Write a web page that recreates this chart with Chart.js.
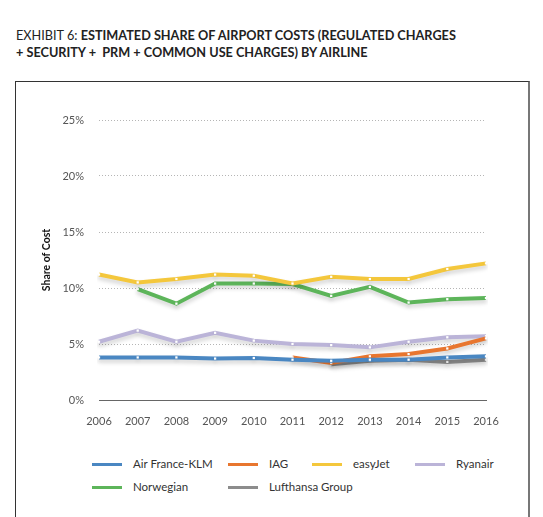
<!DOCTYPE html>
<html>
<head>
<meta charset="utf-8">
<script src="https://cdn.jsdelivr.net/npm/chart.js@4/dist/chart.umd.min.js"></script>
<style>
  body { margin: 0; background: #fff; font-family: Lato, "Open Sans", sans-serif; }
  #title { position: absolute; left: 16px; top: 27px; font-size: 12.7px; line-height: 17px; color: #222; font-weight: bold; }
  #title span { font-weight: normal; }
  #box { position: absolute; left: 15px; top: 81px; width: 512px; height: 450px;
         border: 1.5px solid #333; border-right: 2.5px solid #777; }
  #wrap { position: absolute; left: 17px; top: 83px; width: 510px; height: 360px; }
  #legend { position: absolute; left: 0; top: 456px; width: 543px; font-size: 11.5px; color: #333; }
  .item { position: absolute; height: 16px; line-height: 16px; white-space: nowrap; }
  .item i { display: inline-block; width: 30px; height: 3px; vertical-align: middle; margin-right: 11px; position: relative; top: -1px; }
</style>
</head>
<body>
<div id="title"><span>EXHIBIT 6: </span>ESTIMATED SHARE OF AIRPORT COSTS (REGULATED CHARGES<br>+ SECURITY + &nbsp;PRM + COMMON USE CHARGES) BY AIRLINE</div>
<div id="box"></div>
<div id="wrap"><canvas id="chart"></canvas></div>
<div id="legend"></div>
<script>
var years = ['2006', '2007', '2008', '2009', '2010', '2011', '2012', '2013', '2014', '2015', '2016'];
var airFranceKlm = [3.8, 3.8, 3.8, 3.7, 3.75, 3.6, 3.5, 3.6, 3.6, 3.8, 3.9];
var iag = [null, null, null, null, null, 3.8, 3.3, 3.9, 4.1, 4.6, 5.5];
var easyJet = [11.2, 10.5, 10.8, 11.2, 11.1, 10.4, 11.0, 10.8, 10.8, 11.7, 12.2];
var ryanair = [5.2, 6.2, 5.2, 6.0, 5.3, 5.0, 4.9, 4.7, 5.2, 5.6, 5.7];
var norwegian = [null, 9.9, 8.6, 10.4, 10.4, 10.35, 9.3, 10.1, 8.7, 9.0, 9.1];
var lufthansa = [null, null, null, null, null, null, 3.2, 3.5, 3.6, 3.4, 3.6];
var yTicks = [0, 5, 10, 15, 20, 25];

var legendCols = [92, 228, 312, 415];

function makeSet(label, data, color, order) {
  return {
    label: label,
    data: data,
    borderColor: color,
    backgroundColor: color,
    borderWidth: 4,
    tension: 0,
    order: order,
    pointStyle: 'rect',
    pointRadius: 1.6,
    pointBackgroundColor: '#fff',
    pointBorderWidth: 0,
    pointHoverRadius: 1.6
  };
}

var shadowPlugin = {
  id: 'shadow',
  beforeDatasetDraw: function(chart) {
    var ctx = chart.ctx;
    ctx.save();
    ctx.shadowColor = 'rgba(0,0,0,0.18)';
    ctx.shadowBlur = 4;
    ctx.shadowOffsetY = 3;
  },
  afterDatasetDraw: function(chart) {
    chart.ctx.restore();
  }
};

var ctx = document.getElementById('chart').getContext('2d');
var chart = new Chart(ctx, {
  type: 'line',
  data: {
    labels: years,
    datasets: [
      makeSet('Air France-KLM', airFranceKlm, '#4a87c2', 1),
      makeSet('IAG', iag, '#e8762f', 2),
      makeSet('easyJet', easyJet, '#f4c73c', 3),
      makeSet('Ryanair', ryanair, '#bbb4d8', 4),
      makeSet('Norwegian', norwegian, '#5db55a', 5),
      makeSet('Lufthansa Group', lufthansa, '#8c8c8c', 6)
    ]
  },
  options: {
    responsive: true,
    maintainAspectRatio: false,
    animation: false,
    layout: { padding: { left: 20, right: 41, top: 37, bottom: 0 } },
    plugins: { legend: { display: false }, tooltip: { enabled: false } },
    scales: {
      x: {
        offset: false,
        grid: { display: false, drawTicks: false },
        border: { display: true, color: '#666', width: 1 },
        ticks: { color: '#555', padding: 15, font: { family: 'Lato', size: 11 }, maxRotation: 0 },
        afterFit: function(scale) { scale.height = 43; }
      },
      y: {
        min: 0,
        max: 25,
        afterBuildTicks: function(scale) {
          scale.ticks = yTicks.map(function(v) { return { value: v }; });
        },
        grid: {
          drawTicks: false,
          lineWidth: 1,
          color: function(c) { return c.tick && c.tick.value === 0 ? 'rgba(0,0,0,0)' : '#b5b5b5'; }
        },
        border: { display: false, dash: [1, 2] },
        ticks: {
          color: '#555',
          padding: 15,
          font: { family: 'Lato', size: 11 },
          callback: function(v) { return v + '%'; }
        },
        title: {
          display: true,
          text: 'Share of Cost',
          color: '#111',
          font: { family: 'Lato', size: 10.5, weight: 'bold' },
          padding: { top: 3, bottom: 4 }
        },
        afterFit: function(scale) { scale.width = 62; }
      }
    }
  },
  plugins: [shadowPlugin]
});

var legend = document.getElementById('legend');
chart.data.datasets.forEach(function(ds, i) {
  var el = document.createElement('div');
  el.className = 'item';
  el.style.left = legendCols[i % 4] + 'px';
  el.style.top = (Math.floor(i / 4) * 23) + 'px';
  el.innerHTML = '<i style="background:' + ds.borderColor + '"></i>' + ds.label;
  legend.appendChild(el);
});
</script>
</body>
</html>
